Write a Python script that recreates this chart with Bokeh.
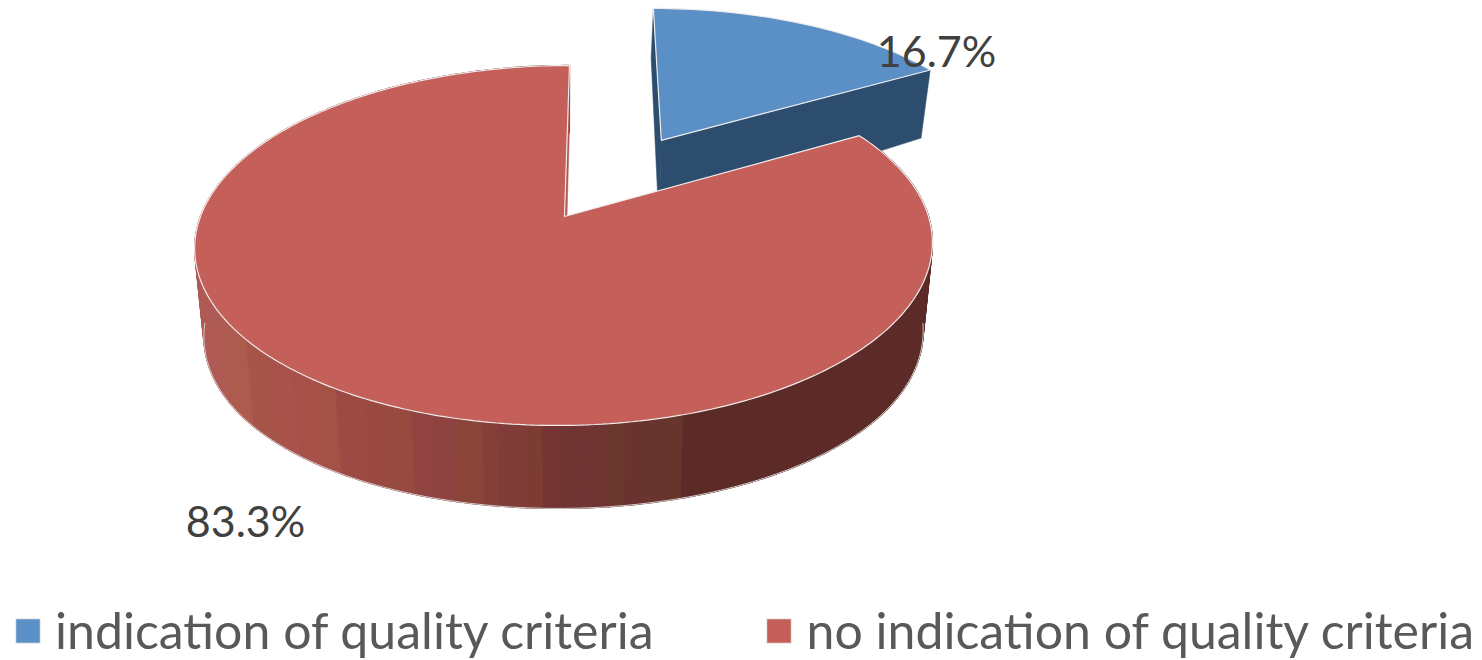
import math
from bokeh.plotting import figure
from bokeh.models import Legend, LegendItem, Range1d
from bokeh.core.properties import value
from bokeh.embed import file_html
from bokeh.resources import INLINE

# ---- data
categories = ["indication of quality criteria", "no indication of quality criteria"]
shares = [16.7, 83.3]
data_labels = ["16.7%", "83.3%"]

# ---- colours
TOP_COLORS = ["#5B90C6", "#C55F5A"]
BLUE_WALL = "#2C4D6E"
NOTCH_WALL = "#B3564F"
EDGE = "#F0ECEC"
BAND_X = [205, 225, 250, 275, 295, 320, 340, 365, 385, 410, 430, 455, 480, 500, 525, 545, 565, 590, 610, 625, 645, 665, 680]
BAND_C = ["#B05A55", "#AC5B4E", "#A85549", "#A9524B", "#A65148", "#A35245", "#9E4A44", "#9A4842", "#974A3F",
          "#914341", "#8F4340", "#8A4439", "#853E38", "#7F3C38", "#7C3C32", "#733433", "#703533", "#6E3431",
          "#6B382E", "#6A3330", "#67342F", "#66352C", "#5C2A27"]

# ---- projection of the tilted pie to image pixels
K, A, Y0, XC, B, D = 0.161, 175.3, 216.0, 600.0, 364.0, -36.0
SCALE_B, XB = 0.975, 563.0
EXPLODE = 0.54
W, H = 1482, 660


def top(u, v):
    w = 1 + K * v
    return XC + (B * u + D) / w, Y0 - A * v / w


def bottom(u, v):
    x, y = top(u, v)
    return XB + (x - XB) * SCALE_B, y + 87.0 - 7.98 * v - 12.0 * v * v


def rim(theta, cu=0.0, cv=0.0):
    return cu + math.sin(theta), cv + math.cos(theta)


def arc(t0, t1, cu, cv, n):
    return [rim(t0 + (t1 - t0) * i / n, cu, cv) for i in range(n + 1)]


def poly(fn, pts):
    xy = [fn(u, v) for u, v in pts]
    return [q[0] for q in xy], [q[1] for q in xy]


def band(x):
    c = BAND_C[0]
    for bx, bc in zip(BAND_X, BAND_C):
        if x >= bx:
            c = bc
    return c


p = figure(width=W, height=H, output_backend="svg", toolbar_location=None,
           x_range=Range1d(0, W), y_range=Range1d(H, 0),
           min_border=0, outline_line_color=None)
p.axis.visible = False
p.grid.visible = False
p.background_fill_color = "white"
p.border_fill_color = "white"

a_blue = 2 * math.pi * shares[0] / sum(shares)
mid = a_blue / 2
cu, cv = EXPLODE * math.sin(mid) + 0.008, EXPLODE * math.cos(mid)

# exploded slice: side walls, then top
blue_arc = arc(0, a_blue, cu, cv, 40)
for end in (blue_arc[0], blue_arc[-1]):
    x1, y1 = top(cu, cv); x2, y2 = top(*end); x3, y3 = bottom(*end); x4, y4 = bottom(cu, cv)
    p.patch([x1, x2, x3, x4], [y1, y2, y3, y4], fill_color=BLUE_WALL, line_color=BLUE_WALL, line_width=0.5)
bx, by = poly(top, [(cu, cv)] + blue_arc)
r_blue = p.patch(bx, by, fill_color=TOP_COLORS[0], line_color=EDGE, line_width=1.2)

# large slice: rim as single segments (gives the full silhouette at the sides)
red_arc = arc(a_blue, 2 * math.pi, 0, 0, 300)
qx, qy, qc = [], [], []
runs = []
for a, b in zip(red_arc[:-1], red_arc[1:]):
    c = band((top(*a)[0] + bottom(*b)[0]) / 2)
    q = [top(*a), top(*b), bottom(*b), bottom(*a)]
    qx.append([t[0] for t in q]); qy.append([t[1] for t in q]); qc.append(c)
    if runs and runs[-1][0] == c:
        runs[-1][1].append(b)
    else:
        runs.append((c, [a, b]))
p.patches(qx, qy, fill_color=qc, line_color=qc, line_width=1.4)

# neighbouring segments of one colour, merged, hide the seams on the front
xs, ys, cs = [], [], []
for c, pts in runs:
    tx, ty = poly(top, pts)
    ux, uy = poly(bottom, pts[::-1])
    xs.append(tx + ux); ys.append(ty + uy); cs.append(c)
p.patches(xs, ys, fill_color=cs, line_color=cs, line_width=0.8)

front = [q for q in red_arc if q[1] < -0.1]
ex, ey = poly(bottom, front)
p.line(ex, ey, line_color="#D4CFCF", line_width=1)

# notch wall, then the top
x1, y1 = top(0, 0); x2, y2 = top(*red_arc[-1]); x3, y3 = bottom(*red_arc[-1]); x4, y4 = bottom(0, 0)
p.patch([x1, x2, x3, x4], [y1, y2, y3, y4], fill_color=NOTCH_WALL, line_color=NOTCH_WALL, line_width=0.5)
rx, ry = poly(top, [(0, 0)] + red_arc)
r_red = p.patch(rx, ry, fill_color=TOP_COLORS[1], line_color=EDGE, line_width=1.2)

# data labels
p.text([936, 245], [50, 520], text=data_labels, text_font=value("Lato"), text_font_size="43px",
       text_color="#404040", text_align="center", text_baseline="middle")

legend = Legend(items=[LegendItem(label=categories[0], renderers=[r_blue]),
                       LegendItem(label=categories[1], renderers=[r_red])],
                orientation="horizontal", location=(12, 0), padding=0, margin=0, spacing=110,
                glyph_width=31, glyph_height=31, label_standoff=12,
                label_text_font="Lato", label_text_font_size="50px", label_text_color="#595959",
                border_line_color=None, background_fill_alpha=0)
p.add_layout(legend, "center")

open("out.html", "w").write(file_html(p, INLINE))
